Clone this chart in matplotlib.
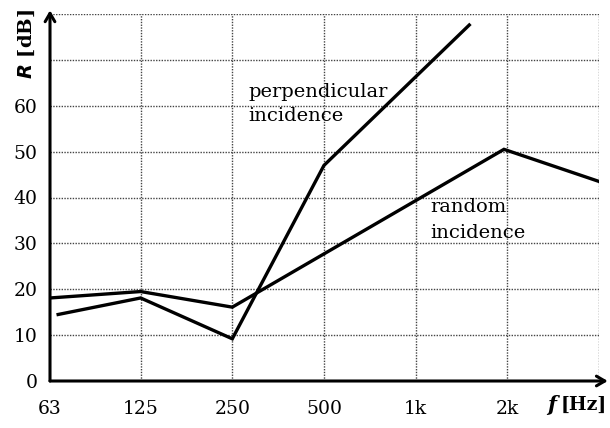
import matplotlib
matplotlib.use("Agg")
import matplotlib.pyplot as plt
import numpy as np

# data
freq_ticks = [63, 125, 250, 500, 1000, 2000]
freq_labels = ["63", "125", "250", "500", "1k", "2k"]
y_ticks = [0, 10, 20, 30, 40, 50, 60]

perp_f = [67, 125, 250, 500, 1500]
perp_R = [14.5, 18.1, 9.2, 47.0, 77.6]

rand_f = [63, 125, 250, 1950, 4000]
rand_R = [18.1, 19.5, 16.1, 50.5, 43.5]

plt.rcParams['font.family'] = ['DejaVu Serif']

fig = plt.figure(figsize=(6.10, 4.28), dpi=100)
ax = fig.add_axes([50/610, 1-381/428, (599-50)/610, (381-14)/428])
ax.set_xscale('log', base=2)
ax.set_xlim(63, 4000)
ax.set_ylim(0, 80)

for s in ax.spines.values():
    s.set_visible(False)

grid_kw = dict(color='#444444', lw=1.0, ls=(0, (1, 1)), zorder=1)
for f in freq_ticks[1:] + [4000]:
    ax.axvline(f, **grid_kw)
for v in range(10, 81, 10):
    ax.axhline(v, **grid_kw)

ax.plot(perp_f, perp_R, color='black', lw=2.4, zorder=3, solid_joinstyle='miter')
ax.plot(rand_f, rand_R, color='black', lw=2.4, zorder=3, solid_joinstyle='miter')

# axes with arrows
ax.annotate('', xy=(1.016, 0), xytext=(0, 0), xycoords='axes fraction',
            arrowprops=dict(arrowstyle='->,head_length=0.6,head_width=0.35', lw=2.2, color='black',
                            shrinkA=0, shrinkB=0), annotation_clip=False)
ax.annotate('', xy=(0, 1.01), xytext=(0, 0), xycoords='axes fraction',
            arrowprops=dict(arrowstyle='->,head_length=0.6,head_width=0.35', lw=2.2, color='black',
                            shrinkA=0, shrinkB=0), annotation_clip=False)

ax.set_xticks(freq_ticks)
ax.set_xticklabels(freq_labels)
ax.xaxis.set_minor_locator(matplotlib.ticker.NullLocator())
ax.set_yticks(y_ticks)
ax.tick_params(length=0, labelsize=13.5)
ax.tick_params(axis='x', pad=14)
ax.tick_params(axis='y', pad=9)

ax.text(282, 63.0, "perpendicular", fontsize=14, va='center', ha='left')
ax.text(282, 57.7, "incidence", fontsize=14, va='center', ha='left')
ax.text(1120, 37.9, "random", fontsize=14, va='center', ha='left')
ax.text(1120, 32.2, "incidence", fontsize=14, va='center', ha='left')

fig.text(27/610, 1-44/428, r"$\boldsymbol{R}$ [dB]", rotation=90, ha='center', va='center',
         fontsize=14, fontweight='bold')
fig.text(561/610, 1-405/428, "[Hz]", ha='left', va='center', fontsize=13.5, fontweight='bold')
fig.text(552/610, 1-405/428, "f", ha='center', va='center', fontsize=15, fontweight='bold', style='italic')

fig.savefig("out.png", dpi=100)
